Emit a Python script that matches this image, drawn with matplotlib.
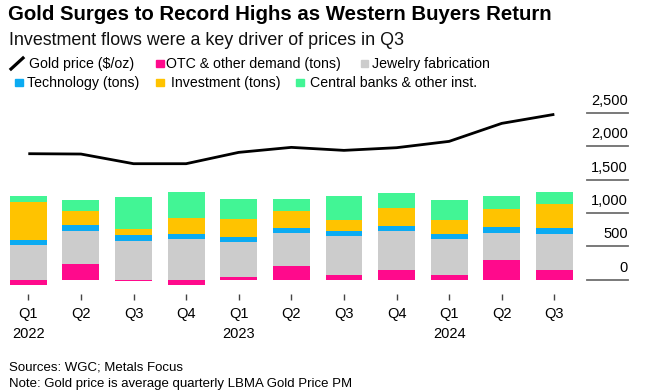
import matplotlib
matplotlib.use('Agg')
import matplotlib.pyplot as plt
from matplotlib.patches import Rectangle
from matplotlib.lines import Line2D
import numpy as np

plt.rcParams['font.family'] = ['Liberation Sans', 'DejaVu Sans']

# ---------------- data ----------------
quarters = ['Q1', 'Q2', 'Q3', 'Q4', 'Q1', 'Q2', 'Q3', 'Q4', 'Q1', 'Q2', 'Q3']
years = ['2022', '', '', '', '2023', '', '', '', '2024', '', '']
otc = [-75, 240, -25, -75, 35, 210, 65, 150, 70, 295, 140]
jewelry = [515, 495, 585, 605, 530, 495, 585, 580, 540, 410, 545]
technology = [85, 80, 80, 80, 75, 75, 75, 80, 80, 80, 85]
investment = [560, 210, 100, 245, 275, 255, 165, 270, 205, 275, 365]
central_banks = [90, 165, 470, 385, 295, 180, 370, 215, 305, 200, 185]
gold_price = [1890, 1885, 1740, 1740, 1910, 1985, 1940, 1980, 2075, 2345, 2480]
y_ticks = [0, 500, 1000, 1500, 2000, 2500]

series_names = ['OTC & other demand (tons)', 'Jewelry fabrication', 'Technology (tons)',
                'Investment (tons)', 'Central banks & other inst.']
colors = {'pink': '#FF0A8C', 'grey': '#CCCCCC', 'blue': '#0BABF2',
          'yellow': '#FFC300', 'green': '#42F595'}

W, H = 645, 392
fig = plt.figure(figsize=(W / 100, H / 100), dpi=100)

def fx(x):
    return x / W

def fy(y):
    return 1 - y / H

# axes placement (pixels)
ax_left, ax_right, ax_top, ax_bottom = 2, 628, 100, 294
ax = fig.add_axes([fx(ax_left), fy(ax_bottom), (ax_right - ax_left) / W, (ax_bottom - ax_top) / H])
ax.set_xlim(-0.5, 11.4)
ax.set_ylim(-214.5, 2695.5)
for s in ax.spines.values():
    s.set_visible(False)

x = np.arange(len(quarters))
otc_a = np.array(otc, dtype=float)
base = np.maximum(otc_a, 0)
bw = 0.7
ax.bar(x, otc_a, bw, color=colors['pink'], zorder=2)
cum = base.copy()
for vals, c in [(jewelry, 'grey'), (technology, 'blue'), (investment, 'yellow'), (central_banks, 'green')]:
    v = np.array(vals, dtype=float)
    ax.bar(x, v, bw, bottom=cum, color=colors[c], zorder=2)
    cum = cum + v

ax.plot(x, gold_price, color='black', lw=2.0, zorder=3, solid_capstyle='butt')

# x ticks
ax.set_xticks(x)
ax.set_xticklabels([q + ('\n' + y if y else '\n') for q, y in zip(quarters, years)],
                   fontsize=10.5, linespacing=1.5)
ax.tick_params(axis='x', length=4.5, width=1, color='#444444', pad=5, direction='out')
ax.set_yticks([])

# right-side value gridline segments with labels above
for v in y_ticks:
    ax.plot([10.62, 11.4], [v, v], color='#6e6e6e', lw=1.3, clip_on=False, zorder=1)
    ax.text(11.4, v + 120, f'{v:,}', ha='right', va='baseline', fontsize=10.5, color='black')

# title & subtitle
fig.text(fx(8), fy(20), 'Gold Surges to Record Highs as Western Buyers Return',
         fontsize=14.7, fontweight='bold', va='baseline', ha='left')
fig.text(fx(9), fy(45), 'Investment flows were a key driver of prices in Q3',
         fontsize=12.9, va='baseline', ha='left', color='#111111')

# legend
fs_leg = 10.2
fig.add_artist(Line2D([fx(11), fx(23)], [fy(69), fy(58)], color='black', lw=2.3,
                      transform=fig.transFigure))
fig.text(fx(29), fy(68), 'Gold price ($/oz)', fontsize=fs_leg, va='baseline')
legend_items = [
    (156, 59.5, colors['pink'], 166, 68, series_names[0]),
    (361, 59.5, colors['grey'], 372, 68, series_names[1]),
    (15, 78.5, colors['blue'], 27, 87, series_names[2]),
    (156, 78.5, colors['yellow'], 171, 87, series_names[3]),
    (296, 78.5, colors['green'], 310, 87, series_names[4]),
]
for sx, sy, c, tx, ty, label in legend_items:
    fig.add_artist(Rectangle((fx(sx), fy(sy + 7.5)), 7.5 / W, 7.5 / H, color=c,
                             transform=fig.transFigure))
    fig.text(fx(tx), fy(ty), label, fontsize=fs_leg, va='baseline')

# footer
fig.text(fx(9), fy(370), 'Sources: WGC; Metals Focus', fontsize=9.5, va='baseline')
fig.text(fx(9), fy(387), 'Note: Gold price is average quarterly LBMA Gold Price PM',
         fontsize=9.5, va='baseline')

fig.savefig('out.png', dpi=100)
